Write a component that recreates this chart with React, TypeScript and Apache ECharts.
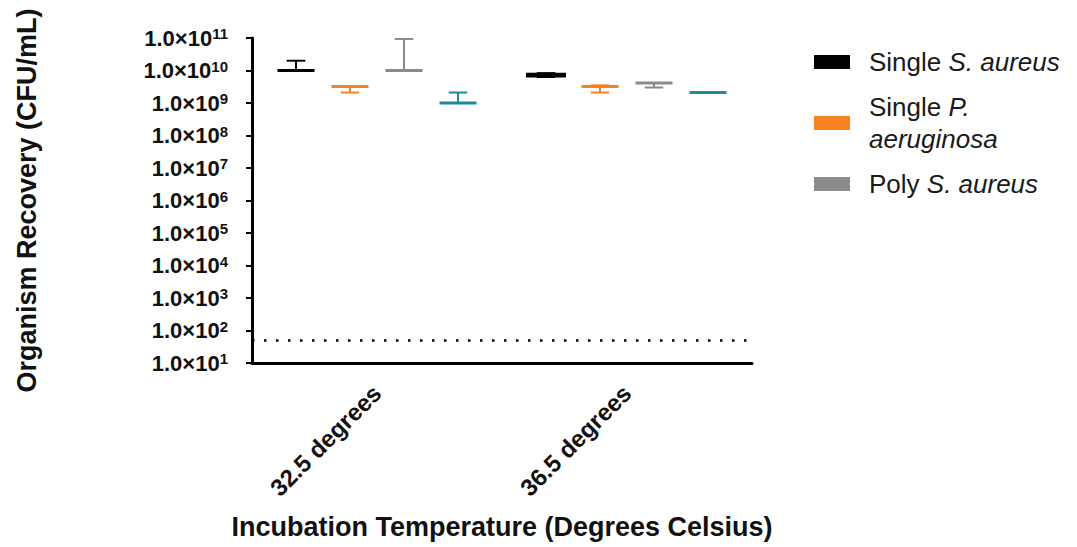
import React, { useEffect, useRef } from "react";
import * as echarts from "echarts";

// ---- data ----
const categories = ["32.5 degrees", "36.5 degrees"];
const seriesNames = ["Single S. aureus", "Single P. aeruginosa", "Poly S. aureus", "Poly P. aeruginosa"];
const seriesColors = ["#000000", "#F5841F", "#8A8A8A", "#1C8A9B"];
// each row: [min, q1, median, q3, max] per category
const singleSaureus = [
  [1.0e10, 1.0e10, 1.0e10, 1.0e10, 2.0e10],
  [6.3e9, 6.8e9, 7.2e9, 7.6e9, 8.3e9],
];
const singlePaeruginosa = [
  [2.1e9, 3.2e9, 3.2e9, 3.2e9, 3.2e9],
  [2.1e9, 3.1e9, 3.2e9, 3.3e9, 3.5e9],
];
const polySaureus = [
  [1.0e10, 1.0e10, 1.0e10, 1.0e10, 9.3e10],
  [3.0e9, 4.1e9, 4.1e9, 4.1e9, 4.1e9],
];
const polyPaeruginosa = [
  [1.0e9, 1.0e9, 1.0e9, 1.0e9, 2.1e9],
  [2.0e9, 2.05e9, 2.1e9, 2.15e9, 2.2e9],
];
const allSeries = [singleSaureus, singlePaeruginosa, polySaureus, polyPaeruginosa];
const detectionLimit = 50;
const yMin = 10;
const yMax = 1e11;
const legendNames = ["Single S. aureus", "Single P. aeruginosa", "Poly S. aureus"];

const FONT = "Liberation Sans, Arial, sans-serif";
const groupOffsets = [-0.324, -0.108, 0.108, 0.324];
const boxFrac = 0.148;

function makeRender(si: number) {
  return (params: any, api: any) => {
    const cat = api.value(0);
    const color = seriesColors[si];
    const center = api.coord([cat, api.value(3)]);
    const band = api.size([1, api.value(3)])[0];
    const cx = center[0] + groupOffsets[si] * band;
    const w = boxFrac * band;
    const yMinP = api.coord([cat, api.value(1)])[1];
    const yQ1 = api.coord([cat, api.value(2)])[1];
    const yMed = center[1];
    const yQ3 = api.coord([cat, api.value(4)])[1];
    const yMaxP = api.coord([cat, api.value(5)])[1];
    const children: any[] = [];
    const thin = { stroke: color, lineWidth: 2, fill: null };
    const thick = { stroke: color, lineWidth: 3, fill: null };
    if (Math.abs(yQ1 - yQ3) > 1) {
      children.push({ type: "rect", shape: { x: cx - w / 2, y: yQ3, width: w, height: yQ1 - yQ3 }, style: thick });
    }
    children.push({ type: "line", shape: { x1: cx - w / 2, y1: yMed, x2: cx + w / 2, y2: yMed }, style: thick });
    if (Math.abs(yMaxP - yQ3) > 0.5) {
      children.push({ type: "line", shape: { x1: cx, y1: yQ3, x2: cx, y2: yMaxP }, style: thin });
      children.push({ type: "line", shape: { x1: cx - w / 4, y1: yMaxP, x2: cx + w / 4, y2: yMaxP }, style: thin });
    }
    if (Math.abs(yMinP - yQ1) > 0.5) {
      children.push({ type: "line", shape: { x1: cx, y1: yQ1, x2: cx, y2: yMinP }, style: thin });
      children.push({ type: "line", shape: { x1: cx - w / 4, y1: yMinP, x2: cx + w / 4, y2: yMinP }, style: thin });
    }
    return { type: "group", children };
  };
}

function legendFormatter(name: string) {
  if (name === "Single S. aureus") return "{n|Single }{i|S. aureus}";
  if (name === "Single P. aeruginosa") return "{n|Single }{i|P.}\n{j|aeruginosa}";
  if (name === "Poly S. aureus") return "{n|Poly }{i|S. aureus}";
  return name;
}

export default function App() {
  const ref = useRef<HTMLDivElement>(null);
  useEffect(() => {
    if (!ref.current) return;
    const chart = echarts.init(ref.current, undefined, { renderer: "svg" });
    const series: any[] = allSeries.map((rows, si) => ({
      type: "custom",
      name: seriesNames[si],
      itemStyle: { color: seriesColors[si] },
      renderItem: makeRender(si),
      encode: { x: 0, y: [1, 2, 3, 4, 5] },
      data: rows.map((r, ci) => [ci, ...r]),
      z: 3,
    }));
    series.push({
      type: "line",
      name: "limit",
      data: [],
      markLine: {
        silent: true,
        symbol: ["none", "none"],
        label: { show: false },
        lineStyle: { type: [2.5, 9.5], color: "#000", width: 2.5 },
        data: [{ yAxis: detectionLimit }],
      },
    });
    const legendText = { fontSize: 26, lineHeight: 32, fontFamily: FONT, color: "#1a1a1a" };
    chart.setOption({
      animation: false,
      backgroundColor: "#ffffff",
      textStyle: { fontFamily: FONT },
      grid: { left: 252, top: 38, width: 500, height: 325, containLabel: false },
      legend: {
        data: legendNames,
        orient: "vertical",
        left: 809,
        top: 41,
        itemWidth: 36,
        itemHeight: 14,
        itemGap: 13,
        icon: "rect",
        selectedMode: false,
        formatter: legendFormatter,
        textStyle: {
          ...legendText,
          rich: {
            n: { ...legendText, padding: [0, 0, 0, 14] },
            i: { ...legendText, fontStyle: "italic" },
            j: { ...legendText, fontStyle: "italic", padding: [0, 0, 0, 14] },
          },
        },
      },
      xAxis: {
        type: "category",
        data: categories,
        boundaryGap: true,
        name: "Incubation Temperature (Degrees Celsius)",
        nameLocation: "middle",
        nameGap: 150,
        nameTextStyle: { fontFamily: FONT, fontSize: 27, fontWeight: "bold", color: "#111" },
        axisLine: { lineStyle: { color: "#000", width: 3 } },
        axisTick: { alignWithLabel: true, length: 8, lineStyle: { width: 3, color: "#000" } },
        axisLabel: { rotate: 45, fontFamily: FONT, fontSize: 24, fontWeight: "bold", color: "#111", margin: 26 },
      },
      yAxis: {
        type: "log",
        logBase: 10,
        min: yMin,
        max: yMax,
        interval: 1,
        splitNumber: 10,
        name: "Organism Recovery (CFU/mL)",
        nameLocation: "middle",
        nameGap: 212,
        nameRotate: 90,
        nameTextStyle: { fontFamily: FONT, fontSize: 27, fontWeight: "bold", color: "#111" },
        splitLine: { show: false },
        axisLine: { show: true, lineStyle: { color: "#000", width: 3 } },
        axisTick: { show: true, length: 6, lineStyle: { width: 2, color: "#000" } },
        axisLabel: {
          margin: 24,
          showMinLabel: true,
          showMaxLabel: true,
          hideOverlap: false,
          formatter: (v: number) => `{a|1.0×10}{b|${Math.round(Math.log10(v))}}`,
          rich: {
            a: { fontFamily: FONT, fontSize: 22, fontWeight: "bold", color: "#111", lineHeight: 24 },
            b: { fontFamily: FONT, fontSize: 15, fontWeight: "bold", color: "#111", verticalAlign: "top", lineHeight: 15 },
          },
        },
      },
      series,
    });
    return () => chart.dispose();
  }, []);
  return <div ref={ref} style={{ position: "fixed", left: 0, top: 0, width: 1077, height: 547 }} />;
}
